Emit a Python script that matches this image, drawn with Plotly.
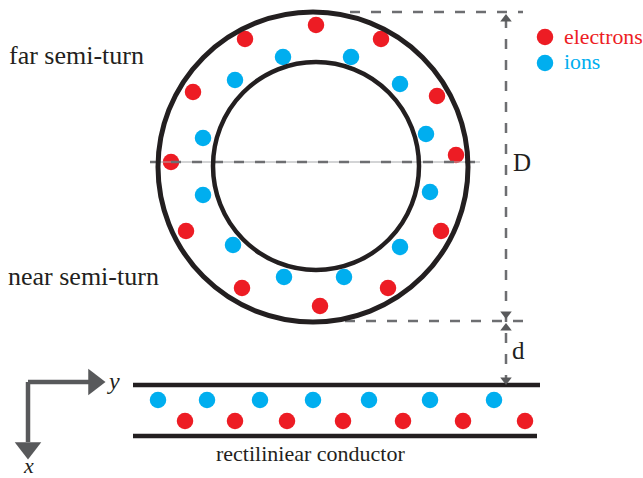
import plotly.graph_objects as go

W, H = 643, 478
RED, BLUE, BLACK, GREY = "#ED1C24", "#00AEEF", "#231F20", "#58595B"
SERIF = "Liberation Serif"

ring_electron_x = [316, 245, 381, 193, 437, 171, 456, 186, 441, 242, 388, 320]
ring_electron_y = [25, 39, 39, 92, 96, 162, 155, 231, 231, 288, 288, 306]
ring_ion_x = [283, 351, 235, 400, 203, 426, 203, 430, 233, 400, 284, 344]
ring_ion_y = [57, 57, 80, 84, 138, 134, 195, 192, 245, 247, 277, 277]
wire_electron_x = [185, 235, 287, 343, 403, 463, 525]
wire_electron_y = [421] * 7
wire_ion_x = [158, 207, 260, 313, 369, 430, 494]
wire_ion_y = [400] * 7
legend_dot_x = [545, 545]
legend_dot_y = [37, 63]

outer_ring = dict(x0=158, x1=468, y0=12, y1=322)
inner_ring = dict(x0=213, x1=419, y0=62, y1=270)
conductors = [dict(x=[133, 540], y=[385, 385]), dict(x=[133, 537], y=[436, 436])]
center_line = dict(x=[150, 480], y=[162, 162])
dashes = [
    center_line,
    dict(x=[350, 523], y=[12, 12]),
    dict(x=[345, 523], y=[321, 321]),
    dict(x=[506, 506], y=[18, 382]),
]
small_arrows = [(506, 19, "triangle-up"), (506, 314, "triangle-down"),
                (506, 328, "triangle-up"), (506, 380, "triangle-down")]
axis_lines = [dict(x=[28, 90], y=[382, 382]), dict(x=[28, 28], y=[382, 442])]
axis_heads = [(94, 382, "triangle-right"), (28, 448, "triangle-down")]

labels = [
    ("far semi-turn", 9, 55, 26, BLACK, "left", "normal"),
    ("near semi-turn", 8, 276, 26, BLACK, "left", "normal"),
    ("electrons", 564, 37, 21.8, RED, "left", "normal"),
    ("ions", 564, 62, 21.8, BLUE, "left", "normal"),
    ("D", 513, 162, 25, BLACK, "left", "normal"),
    ("d", 512, 350, 25, BLACK, "left", "normal"),
    ("rectiliniear conductor", 310, 453, 22, BLACK, "center", "normal"),
    ("y", 113, 381, 24, BLACK, "center", "italic"),
    ("x", 28, 465, 22, BLACK, "center", "italic"),
]

fig = go.Figure()


def line(seg, color, width, dash="solid"):
    fig.add_trace(go.Scatter(x=seg["x"], y=seg["y"], mode="lines",
                             line=dict(color=color, width=width, dash=dash),
                             hoverinfo="skip"))


for ring, w in ((outer_ring, 5), (inner_ring, 4.5)):
    fig.add_shape(type="circle", xref="x", yref="y", line=dict(color=BLACK, width=w), **ring)

fig.add_trace(go.Scatter(x=ring_electron_x + wire_electron_x, y=ring_electron_y + wire_electron_y,
                         mode="markers", name="electrons",
                         marker=dict(color=RED, size=16.5, line=dict(width=0))))
fig.add_trace(go.Scatter(x=ring_ion_x + wire_ion_x, y=ring_ion_y + wire_ion_y,
                         mode="markers", name="ions",
                         marker=dict(color=BLUE, size=16.5, line=dict(width=0))))
fig.add_trace(go.Scatter(x=legend_dot_x, y=legend_dot_y, mode="markers",
                         marker=dict(color=[RED, BLUE], size=16.5, line=dict(width=0))))

for seg in conductors:
    line(seg, BLACK, 4.5)
line(center_line, "#A7A9AC", 1)
for seg in dashes:
    line(seg, "#6D6E71", 2.5, "10px,11px")
for seg in axis_lines:
    line(seg, GREY, 4.5)

fig.add_trace(go.Scatter(x=[a[0] for a in small_arrows], y=[a[1] for a in small_arrows], mode="markers",
                         marker=dict(color=GREY, size=10, symbol=[a[2] for a in small_arrows], line=dict(width=0))))
fig.add_trace(go.Scatter(x=[a[0] for a in axis_heads], y=[a[1] for a in axis_heads], mode="markers",
                         marker=dict(color=GREY, size=23, symbol=[a[2] for a in axis_heads], line=dict(width=0))))

for text, x, y, size, color, anchor, style in labels:
    fig.add_annotation(x=x, y=y, text=f"<i>{text}</i>" if style == "italic" else text,
                       showarrow=False, xanchor=anchor, yanchor="middle",
                       font=dict(family=SERIF, size=size, color=color), borderpad=0, borderwidth=0)

fig.update_layout(
    width=W, height=H, margin=dict(l=0, r=0, t=0, b=0), showlegend=False,
    paper_bgcolor="white", plot_bgcolor="white",
    xaxis=dict(range=[0, W], visible=False, fixedrange=True),
    yaxis=dict(range=[H, 0], visible=False, fixedrange=True),
)
fig.write_html("out.html", config=dict(displayModeBar=False),
               post_script="document.body.style.margin='0';document.documentElement.style.overflow='hidden';")
